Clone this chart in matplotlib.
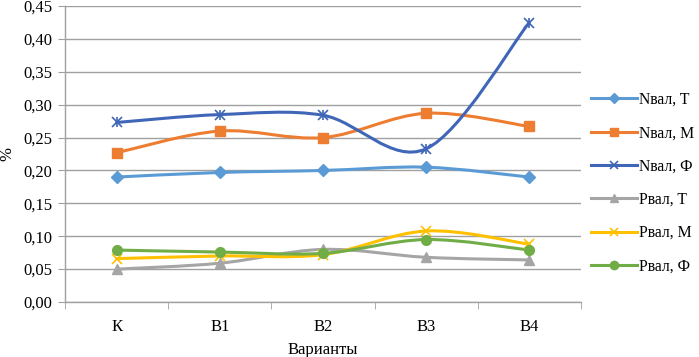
import matplotlib
matplotlib.use("Agg")
import matplotlib.pyplot as plt
from matplotlib.path import Path
from matplotlib.patches import PathPatch
from matplotlib.lines import Line2D
from matplotlib.ticker import FuncFormatter, MultipleLocator

plt.rcParams["font.family"] = ["Liberation Serif", "DejaVu Serif"]

categories = ["К", "В1", "В2", "В3", "В4"]
n_t = [0.190, 0.197, 0.200, 0.205, 0.190]
n_m = [0.227, 0.260, 0.250, 0.287, 0.267]
n_f = [0.273, 0.285, 0.284, 0.233, 0.425]
p_t = [0.050, 0.059, 0.080, 0.068, 0.064]
p_m = [0.066, 0.070, 0.072, 0.108, 0.088]
p_f = [0.079, 0.076, 0.074, 0.095, 0.079]

series = [
    ("Nвал, T", n_t, "#5B9BD5", "D", 6),
    ("Nвал, М", n_m, "#ED7D31", "s", 7),
    ("Nвал, Ф", n_f, "#4066B8", "x", 7),
    ("Pвал, T", p_t, "#A5A5A5", "^", 7),
    ("Pвал, М", p_m, "#FFC000", "x", 7),
    ("Pвал, Ф", p_f, "#70AD47", "o", 7),
]


def smooth_path(xs, ys):
    # Excel-like smoothed line: Catmull-Rom as cubic Bezier
    pts = list(zip(xs, ys))
    verts = [pts[0]]
    codes = [Path.MOVETO]
    n = len(pts)
    for i in range(n - 1):
        p0 = pts[i - 1] if i > 0 else pts[i]
        p1 = pts[i]
        p2 = pts[i + 1]
        p3 = pts[i + 2] if i + 2 < n else pts[i + 1]
        c1 = (p1[0] + (p2[0] - p0[0]) / 6, p1[1] + (p2[1] - p0[1]) / 6)
        c2 = (p2[0] - (p3[0] - p1[0]) / 6, p2[1] - (p3[1] - p1[1]) / 6)
        verts += [c1, c2, p2]
        codes += [Path.CURVE4] * 3
    return Path(verts, codes)


fig = plt.figure(figsize=(6.99, 3.57), dpi=100)
ax = fig.add_axes([0.093, 0.154, 0.738, 0.829])

x = list(range(len(categories)))
handles = []
for label, vals, color, marker, ms in series:
    patch = PathPatch(smooth_path(x, vals), facecolor="none", edgecolor=color,
                      lw=2.2, zorder=3, capstyle="round")
    ax.add_patch(patch)
    mew = 1.2 if marker == "x" else 1
    ax.plot(x, vals, linestyle="none", marker=marker, markersize=ms,
            color=color, markeredgewidth=mew, zorder=4)
    if label == "Nвал, Ф":
        ax.plot(x, vals, linestyle="none", marker="|", markersize=ms,
                color=color, markeredgewidth=1.2, zorder=4)
    h = Line2D([], [], color=color, lw=2.2, marker=marker, markersize=ms - 1,
               markeredgewidth=mew)
    handles.append(h)

ax.set_xlim(-0.5, len(categories) - 0.5)
ax.set_ylim(0, 0.45)
ax.yaxis.set_major_locator(MultipleLocator(0.05))
ax.yaxis.set_major_formatter(FuncFormatter(lambda v, p: f"{v:.2f}".replace(".", ",")))
ax.set_xticks(x)
ax.set_xticklabels(categories)
ax.set_xticks([i + 0.5 for i in range(-1, len(categories))], minor=True)
ax.tick_params(axis="x", which="major", length=0, labelsize=12, pad=12)
ax.tick_params(axis="x", which="minor", length=5, color="#A0A0A0")
ax.tick_params(axis="y", length=5, color="#A0A0A0", labelsize=12, pad=4)

ax.grid(axis="y", color="#A0A0A0", lw=1)
ax.set_axisbelow(True)
for side in ["top", "right"]:
    ax.spines[side].set_visible(False)
for side in ["left", "bottom"]:
    ax.spines[side].set_color("#A0A0A0")
    ax.spines[side].set_linewidth(1)

ax.set_ylabel("%", fontsize=12, labelpad=6)
ax.set_xlabel("Варианты", fontsize=12, labelpad=5)

fig.legend(handles, [s[0] for s in series], loc="center left",
           bbox_to_anchor=(0.826, 0.487), frameon=False, fontsize=11.3,
           handlelength=2.9, labelspacing=1.1, handletextpad=0.15)

fig.savefig("out.png", dpi=100)
